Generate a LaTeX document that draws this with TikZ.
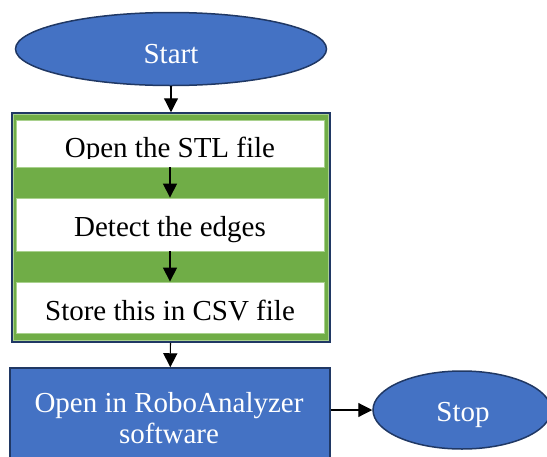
\documentclass[tikz,border=0pt]{standalone}
\usepackage{fontspec}
\setmainfont{Liberation Serif}
\usetikzlibrary{shapes.geometric,arrows.meta}
\definecolor{shapeblue}{HTML}{4472C4}
\definecolor{navyedge}{HTML}{203864}
\definecolor{groupgreen}{HTML}{70AD47}
\definecolor{lightgreen}{HTML}{A9D18E}
\begin{document}
\begin{tikzpicture}[x=1pt,y=-1pt]
	\tikzset{start_stop/.style={ellipse,draw=navyedge,line width=1.5pt,fill=shapeblue,inner sep=0pt},
		group_box/.style={rectangle,draw=navyedge,line width=1.5pt,fill=groupgreen,inner sep=0pt},
		white_box/.style={rectangle,draw=lightgreen,line width=0.8pt,fill=white,inner sep=0pt,minimum width=308pt},
		blue_box/.style={rectangle,draw=navyedge,line width=1.5pt,fill=shapeblue,inner sep=0pt},
		txt/.style={anchor=base,inner sep=0pt,font=\fontsize{29}{33}\selectfont},
		flow/.style={line width=1.2pt,-{Triangle[length=14pt,width=14pt]}}}
	\useasboundingbox (0,0) rectangle (547,456);
	\clip (0,0) rectangle (547,456);
	\node[start_stop,minimum width=311pt,minimum height=73pt] (start) at (171,49) {};
	\node[txt,white] (start_txt) at (171,63) {Start};
	\node[group_box,minimum width=318pt,minimum height=229pt] (grp) at (171,227.5) {};
	\draw[lightgreen,line width=1.2pt] ([xshift=2.5pt,yshift=-2.5pt]grp.north west) rectangle ([xshift=-2.5pt,yshift=2.5pt]grp.south east);
	\node[white_box,minimum height=47pt] (open) at (170,143.5) {};
	\node[white_box,minimum height=53pt] (detect) at (170,224.5) {};
	\node[white_box,minimum height=51pt] (store) at (170,307.5) {};
	\begin{scope}
		\clip (16,120) rectangle (324,158.5);
		\node[txt] (open_txt) at (170,157.3) {Open the STL file};
	\end{scope}
	\node[txt] (detect_txt) at (170,236.5) {Detect the edges};
	\node[txt] (store_txt) at (170,320.5) {Store this in CSV file};
	\node[blue_box,minimum width=320pt,minimum height=110pt] (robo) at (170,423) {};
	\node[txt,white] (robo_txt1) at (169,412) {Open in RoboAnalyzer};
	\node[txt,white] (robo_txt2) at (169,443) {software};
	\node[start_stop,minimum width=178pt,minimum height=78pt] (stop) at (462,410) {};
	\node[txt,white] (stop_txt) at (463,421) {Stop};
	\draw[flow] (start) -- (grp);
	\draw[flow] (open) -- (detect);
	\draw[flow] (detect) -- (store);
	\draw[flow] (grp) -- (robo);
	\draw[flow] (robo.east |- stop.west) -- (stop.west);
\end{tikzpicture}
\end{document}
